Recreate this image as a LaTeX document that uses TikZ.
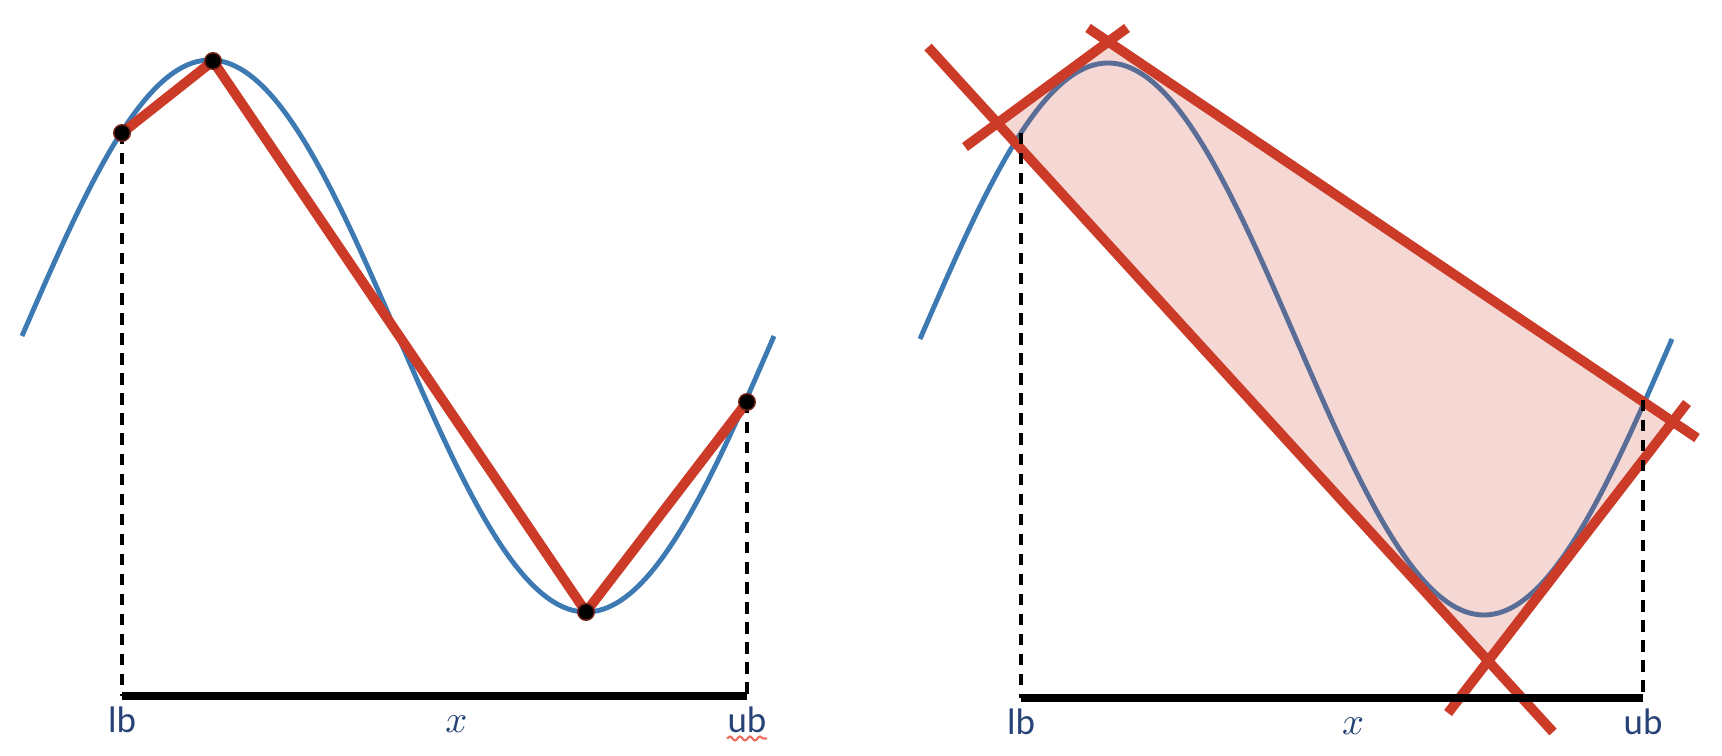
\documentclass[tikz,border=0pt]{standalone}
\usepackage{fontspec}
\setmainfont{Carlito}
\usepackage{xcolor}
\usetikzlibrary{positioning, calc, decorations.pathmorphing}

\definecolor{curveblue}{RGB}{61,122,179}
\definecolor{boundred}{RGB}{204,58,40}
\definecolor{labelblue}{RGB}{38,66,118}
\definecolor{spellred}{RGB}{240,112,96}

\begin{document}
\begin{tikzpicture}[
  x=0.1mm, y=-0.1mm,
  font=\fontsize{10.5}{12}\selectfont,
  curve/.style={curveblue, line width=1.4pt},
  bound/.style={boundred, line width=2.8pt, line join=round},
  guide/.style={black, line width=1.05pt, dash pattern=on 3.2pt off 2.5pt},
  axisline/.style={black, line width=2pt},
  dot/.style={circle, fill=black, draw=boundred!55!black, line width=0.4pt,
              minimum size=1.65mm, inner sep=0pt},
  lbl/.style={text=labelblue, inner sep=0pt, text height=7pt, text depth=0pt},
  spell/.style={spellred, line width=0.6pt, decorate,
                decoration={snake, amplitude=0.2mm, segment length=1mm}},
]
\useasboundingbox (0,0) rectangle (1722,756);

% sine period and amplitude (pixel units)
\pgfmathsetmacro{\per}{752}
\pgfmathsetmacro{\amp}{276}

% ---- left panel: piecewise linear interpolation ----
\draw[curve] plot[domain=0:\per, samples=150, smooth]
  ({22+\x}, {336-\amp*sin(\x/\per*360)});

\coordinate (Lp1) at (122,133);
\coordinate (Lp2) at (213,61);
\coordinate (Lp3) at (586,612);
\coordinate (Lp4) at (747,402);
\coordinate (Llb) at (122,696);
\coordinate (Lub) at (747,696);
\coordinate (Lmid) at ($(Llb)!0.535!(Lub)$);

\draw[bound] (Lp1) -- (Lp2) -- (Lp3) -- (Lp4);
\draw[guide] (Lp1) -- (Llb);
\draw[guide] (Lp4) -- (Lub);
\draw[axisline] (Llb) -- (Lub);

\foreach \p in {Lp1,Lp2,Lp3,Lp4}{
  \node[dot] (d\p) at (\p) {};
}

\node[lbl, below=1.15mm of Llb] (lbL) {lb};
\node[lbl, below=1.15mm of Lmid] (xL) {$x$};
\node[lbl, below=1.15mm of Lub] (ubL) {ub};
\draw[spell] ([yshift=-0.5mm]ubL.south west) -- ([yshift=-0.5mm]ubL.south east);

% ---- right panel: linear over/under estimators ----
\draw[curve] plot[domain=0:\per, samples=150, smooth]
  ({920+\x}, {339-\amp*sin(\x/\per*360)});

\coordinate (Rp1) at (1021,133);
\coordinate (Rp4) at (1643,400);
\coordinate (Rlb) at (1021,698);
\coordinate (Rub) at (1643,698);
\coordinate (Rmid) at ($(Rlb)!0.534!(Rub)$);

% bounding lines, two end points each
\coordinate (Ta1) at (928,47);   \coordinate (Ta2) at (1553,732);
\coordinate (Tb1) at (965,147);  \coordinate (Tb2) at (1127,28);
\coordinate (Tc1) at (1088,28);  \coordinate (Tc2) at (1697,438);
\coordinate (Td1) at (1448,713); \coordinate (Td2) at (1687,403);

\fill[boundred, opacity=0.2]
  (intersection of Ta1--Ta2 and Tb1--Tb2) --
  (intersection of Tb1--Tb2 and Tc1--Tc2) --
  (intersection of Tc1--Tc2 and Td1--Td2) --
  (intersection of Td1--Td2 and Ta1--Ta2) -- cycle;

\foreach \t in {Ta,Tb,Tc,Td}{
  \draw[bound] (\t1) -- (\t2);
}

\draw[guide] (Rp1) -- (Rlb);
\draw[guide] (Rp4) -- (Rub);
\draw[axisline] (Rlb) -- (Rub);

\node[lbl, below=1.15mm of Rlb] (lbR) {lb};
\node[lbl, below=1.15mm of Rmid] (xR) {$x$};
\node[lbl, below=1.15mm of Rub] (ubR) {ub};

\end{tikzpicture}
\end{document}
